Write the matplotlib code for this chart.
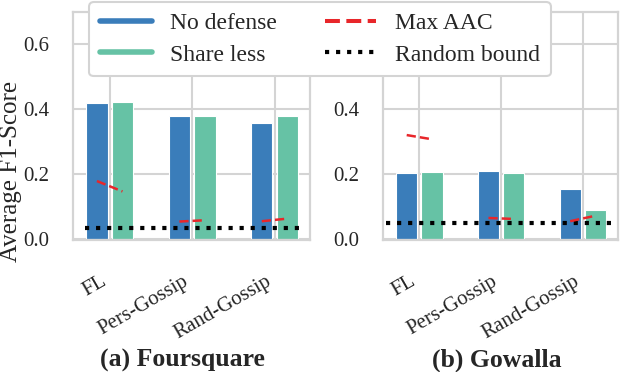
import numpy as np
import matplotlib
matplotlib.use("Agg")
import matplotlib.pyplot as plt
from matplotlib.lines import Line2D

plt.rcParams["font.family"] = ["Liberation Serif", "DejaVu Serif"]

methods = ["FL", "Pers-Gossip", "Rand-Gossip"]
titles = ["(a) Foursquare", "(b) Gowalla"]

# Foursquare, Gowalla
no_defense = [[0.420, 0.378, 0.357], [0.202, 0.210, 0.155]]
share_less = [[0.423, 0.378, 0.378], [0.207, 0.203, 0.088]]
# max AAC: value at "no defense" and at "share less"
aac_nd = [[0.178, 0.053, 0.054], [0.320, 0.064, 0.054]]
aac_sl = [[0.146, 0.057, 0.062], [0.307, 0.061, 0.071]]
random_bound = [0.032, 0.048]

blue = "#3a7dba"
green = "#66c2a5"
red = "#e8262a"
grid_c = "#d4d4d4"
text_c = "#262626"

fig = plt.figure(figsize=(6.22, 3.72), dpi=100)
W, H = 622, 372
boxes = [(73, 12, 310, 240), (383, 12, 618, 240)]
title_x = [182, 497]
rb_span = [(-0.30, 2.34), (-0.41, 2.37)]

x = np.arange(len(methods))
off = 0.155
bw = 0.26

for k, (l, t, r, b) in enumerate(boxes):
    ax = fig.add_axes([l / W, 1 - b / H, (r - l) / W, (b - t) / H])
    ax.set_axisbelow(True)
    ax.grid(True, color=grid_c, linewidth=1.5)
    for s in ax.spines.values():
        s.set_color(grid_c)
        s.set_linewidth(1.6)
    ax.bar(x - off, no_defense[k], bw, color=blue, edgecolor="white", linewidth=0.8)
    ax.bar(x + off, share_less[k], bw, color=green, edgecolor="white", linewidth=0.8)
    for i in range(len(methods)):
        ax.plot([x[i] - off, x[i] + off], [aac_nd[k][i], aac_sl[k][i]],
                color=red, linestyle="--", linewidth=1.8, zorder=4)
    ax.plot(rb_span[k], [random_bound[k]] * 2, color="black",
            linestyle=":", linewidth=3, zorder=3)
    ax.set_xlim(-0.445, 2.43)
    ax.set_ylim(-0.004, 0.70)
    ax.set_yticks([0.0, 0.2, 0.4, 0.6])
    ax.set_yticklabels(["0.0", "0.2", "0.4", "0.6"])
    ax.set_xticks(x)
    ax.set_xticklabels(methods, rotation=30, ha="right")
    ax.tick_params(axis="both", length=0, labelsize=15, colors=text_c)
    ax.tick_params(axis="y", pad=17)
    ax.tick_params(axis="x", pad=23)
    fig.text(title_x[k] / W, 1 - 360 / H, titles[k], fontsize=18.5,
             fontweight="bold", color=text_c, ha="center", va="center")

fig.text(11 / W, 1 - 171 / H, "Average F1-Score", rotation=90, fontsize=18,
         color=text_c, ha="center", va="center")

handles = [
    Line2D([], [], color=blue, linewidth=4, solid_capstyle="round"),
    Line2D([], [], color=green, linewidth=4, solid_capstyle="round"),
    Line2D([], [], color=red, linewidth=2.9, linestyle="--"),
    Line2D([], [], color="black", linewidth=3, linestyle=":"),
]
leg = fig.legend(handles,
                 ["No defense", "Share less", "Max AAC", "Random bound"],
                 loc="upper center", bbox_to_anchor=(320 / W, 1 - 2 / H), ncol=2,
                 fontsize=17, frameon=True, handlelength=2.2,
                 columnspacing=2.0, labelspacing=0.42, borderpad=0.45,
                 borderaxespad=0, handletextpad=0.8, fancybox=True)
leg.get_frame().set_edgecolor(grid_c)
leg.get_frame().set_linewidth(1.5)
leg.get_frame().set_alpha(1)
for txt in leg.get_texts():
    txt.set_color(text_c)

fig.savefig("out.png", dpi=100)
